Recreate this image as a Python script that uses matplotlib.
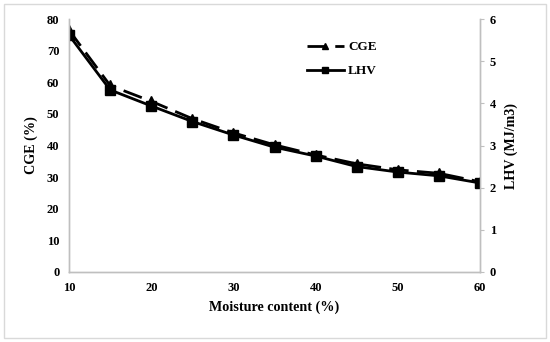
import matplotlib.pyplot as plt
from matplotlib.patches import Rectangle

# 数据
moisture = [10, 15, 20, 25, 30, 35, 40, 45, 50, 55, 60]
cge = [76.5, 59.0, 54.0, 48.5, 44.0, 40.2, 37.0, 34.2, 32.3, 31.2, 28.5]
lhv = [5.62, 4.32, 3.94, 3.57, 3.25, 2.96, 2.75, 2.50, 2.37, 2.28, 2.11]

plt.rcParams['font.family'] = ['Liberation Serif', 'DejaVu Serif']
plt.rcParams['font.weight'] = 'bold'

fig = plt.figure(figsize=(5.5, 3.42), dpi=100)
ax = fig.add_axes([0.1255, 0.205, 0.7475, 0.739])
ax2 = ax.twinx()

# 外框
fig.patches.append(Rectangle((0.008, 0.012), 0.984, 0.976, transform=fig.transFigure,
                             fill=False, edgecolor='#d9d9d9', linewidth=1))

l1, = ax.plot(moisture, cge, color='black', linewidth=2, linestyle=(0, (7, 3)),
              marker='^', markersize=7, label='CGE')
l2, = ax2.plot(moisture, lhv, color='black', linewidth=2,
               marker='s', markersize=7, label='LHV')

ax.set_xlim(10, 60)
ax.set_ylim(0, 80)
ax2.set_ylim(0, 6)
ax.set_xticks(range(10, 61, 10))
ax.set_yticks(range(0, 81, 10))
ax2.set_yticks(range(0, 7))

for a in (ax, ax2):
    a.spines['top'].set_visible(False)
    for s in ('left', 'right', 'bottom'):
        a.spines[s].set_color('#bfbfbf')
        a.spines[s].set_linewidth(1)
ax.tick_params(axis='both', length=0, labelsize=9, pad=7)
ax2.tick_params(axis='y', length=3, color='#bfbfbf', labelsize=9, pad=4)

ax.set_xlabel('Moisture content (%)', fontsize=10.2, fontweight='bold', labelpad=5)
ax.set_ylabel('CGE (%)', fontsize=10.2, fontweight='bold', labelpad=6)
ax2.set_ylabel('LHV (MJ/m3)', fontsize=10.2, fontweight='bold', labelpad=6)

ax.legend(handles=[l1, l2], loc='upper left', bbox_to_anchor=(0.55, 0.96),
          frameon=False, fontsize=9.5, handlelength=2.8, labelspacing=0.9,
          handletextpad=0.3, markerscale=0.7)

plt.savefig('out.png', dpi=100)
